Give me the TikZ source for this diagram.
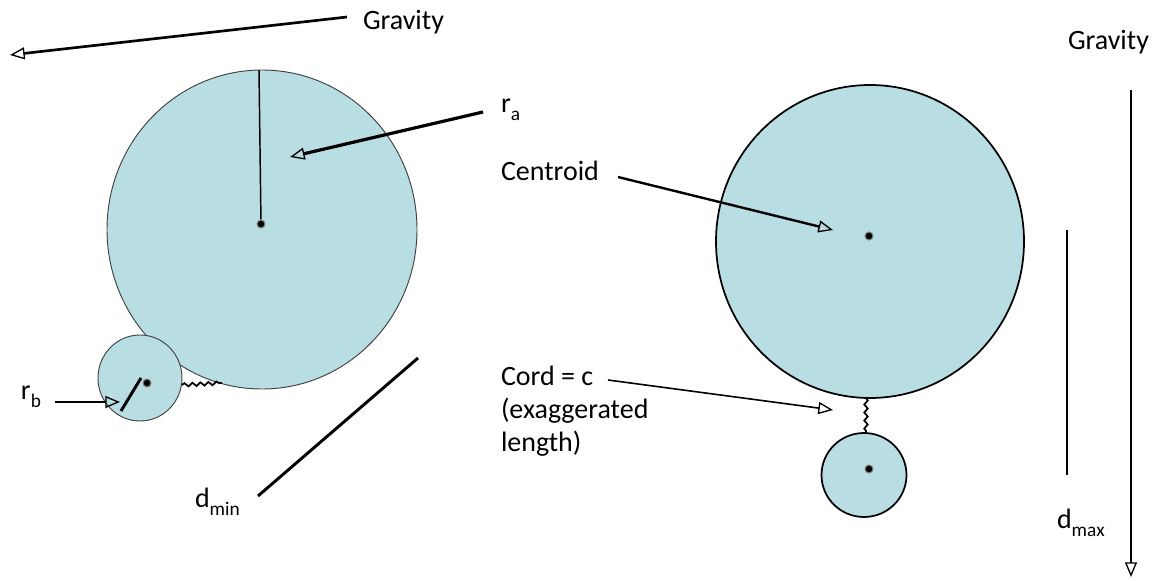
\documentclass[tikz,border=0pt]{standalone}
\usepackage{fontspec}
\setmainfont{Carlito}
\usetikzlibrary{arrows.meta,shapes.geometric,decorations.pathmorphing}
\definecolor{discblue}{RGB}{184,222,227}
\newcommand\lowsub[1]{\raisebox{-6pt}{\fontsize{14.5}{14.5}\selectfont #1}}
\tikzset{
  lbl/.style={font=\fontsize{21}{25}\selectfont, inner sep=0pt, outer sep=0pt, anchor=base west},
  disc/.style={ellipse, draw=black, fill=discblue, inner sep=0pt, outer sep=0pt},
  opentip/.style={-{Triangle[open,length=11pt,width=9pt,line width=1pt]}},
  cordline/.style={decorate, decoration={snake,amplitude=1.3pt,segment length=6pt}, line width=1.3pt},
  ctr/.style={circle, fill=black, inner sep=0pt, minimum size=6pt, draw=gray, line width=0.8pt}
}
\begin{document}
\begin{tikzpicture}[x=0.75pt,y=-0.75pt]
\useasboundingbox (0,0) rectangle (1154,581);
% discs
\node[disc, minimum width=310*0.75pt, minimum height=319*0.75pt, line width=0.7pt, draw=black!75] (A) at (262,229.5) {};
\node[disc, minimum width=84*0.75pt, minimum height=86*0.75pt, line width=0.7pt, draw=black!75] (B) at (140,378) {};
\node[disc, minimum width=308*0.75pt, minimum height=313*0.75pt, line width=1.3pt] (C) at (870,241.5) {};
\node[disc, minimum width=85*0.75pt, minimum height=84*0.75pt, line width=1.3pt] (D) at (864,475) {};
% centroids
\node[ctr] (dA) at (261,224) {};
\node[ctr] (dB) at (147,383) {};
\node[ctr] (dC) at (869,236) {};
\node[ctr] (dD) at (869,469) {};
% radii
\coordinate (raTop) at (259,70);
\draw[line width=1.1pt] (raTop) -- (dA);
\coordinate (rbLow) at (121,411);
\coordinate (rbHigh) at (141,378);
\draw[line width=2.2pt] (rbLow) -- (rbHigh);
% cords
\coordinate (cL1) at (182,385);
\coordinate (cL2) at (222,383);
\draw[cordline] (cL1) -- (cL2);
\coordinate (cR1) at (866,398);
\coordinate (cR2) at (866,433);
\draw[cordline] (cR1) -- (cR2);
% labels
\node[lbl] (gravL) at (363,30) {Gravity};
\node[lbl] (gravR) at (1068,50) {Gravity};
\node[lbl] (ra) at (501,113) {r\lowsub{a}};
\node[lbl] (rb) at (21,399) {r\lowsub{b}};
\node[lbl] (cent) at (501,181) {Centroid};
\node[lbl] (cord1) at (501,385) {Cord = c};
\node[lbl] (cord2) at (501,418) {(exaggerated};
\node[lbl] (cord3) at (501,451) {length)};
\node[lbl] (dmin) at (195,507) {d\lowsub{min}};
\node[lbl] (dmax) at (1057,528) {d\lowsub{max}};
% arrows
\coordinate (gLs) at (347,17);
\coordinate (gLe) at (10,55);
\draw[opentip, line width=2pt] (gLs) -- (gLe);
\coordinate (gRs) at (1131,90);
\coordinate (gRe) at (1131,577);
\draw[opentip, line width=1.5pt] (gRs) -- (gRe);
\coordinate (ras) at (483,112);
\coordinate (rae) at (290,157);
\draw[opentip, line width=2.4pt] (ras) -- (rae);
\coordinate (rbs) at (55,402);
\coordinate (rbe) at (120,402);
\draw[opentip, line width=1.6pt] (rbs) -- (rbe);
\coordinate (cs) at (618,177);
\coordinate (ce) at (833,230);
\draw[opentip, line width=1.8pt] (cs) -- (ce);
\coordinate (cos) at (608,380);
\coordinate (coe) at (833,410);
\draw[opentip, line width=1.2pt] (cos) -- (coe);
% distance bars
\coordinate (dm1) at (258,496);
\coordinate (dm2) at (418,358);
\draw[line width=2.2pt] (dm1) -- (dm2);
\coordinate (dx1) at (1067,230);
\coordinate (dx2) at (1067,475);
\draw[line width=1.5pt] (dx1) -- (dx2);
\end{tikzpicture}
\end{document}
